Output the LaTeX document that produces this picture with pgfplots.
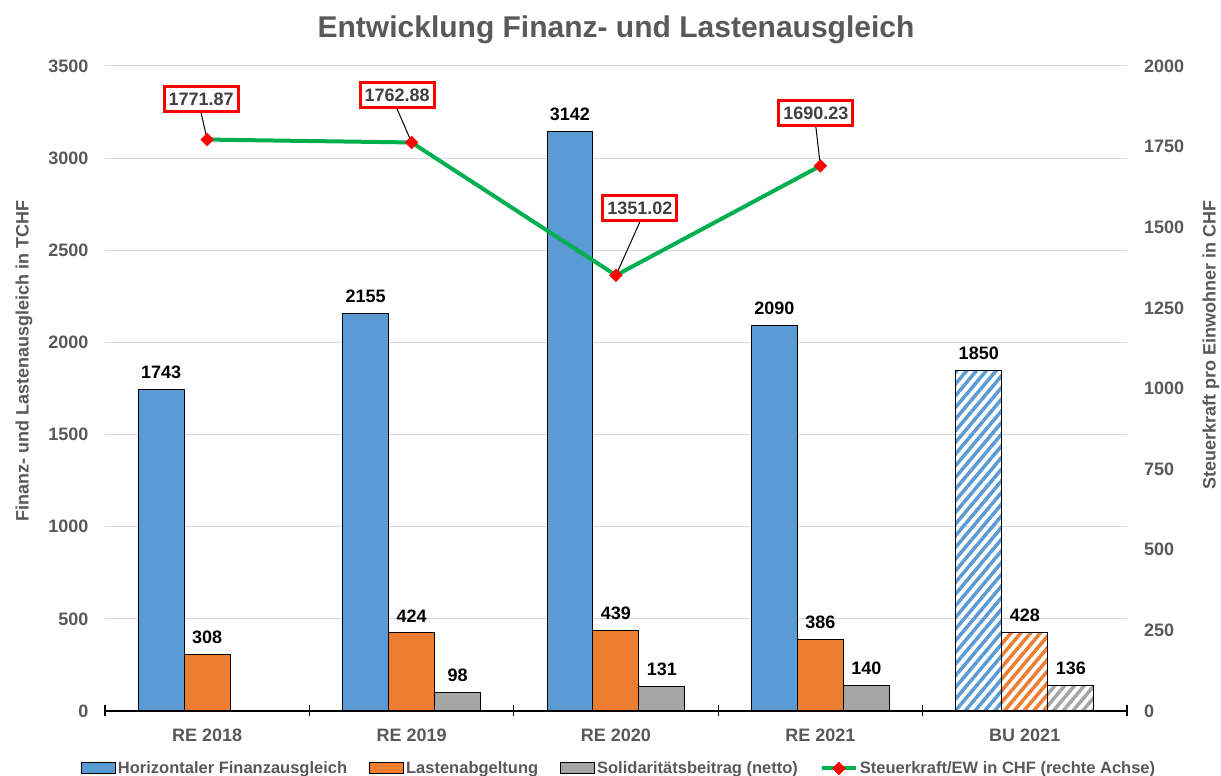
\documentclass[border=0pt]{standalone}
\usepackage{fontspec}
\setmainfont{Liberation Sans}
\usepackage{pgfplots}
\pgfplotsset{compat=1.18}
\usetikzlibrary{patterns.meta}

\definecolor{cblue}{HTML}{5B9BD5}
\definecolor{corange}{HTML}{ED7D31}
\definecolor{cgray}{HTML}{A5A5A5}
\definecolor{cgreen}{HTML}{00B050}
\definecolor{axgray}{HTML}{595959}
\definecolor{labgray}{HTML}{404040}
\definecolor{gridgray}{HTML}{D9D9D9}

\newcommand{\lblfont}{\fontsize{18}{20}\selectfont\bfseries}
\tikzset{lbox/.style={draw=red, line width=3pt, fill=white, text=labgray,
      font=\lblfont, inner xsep=4.5pt, inner ysep=6pt}}
\pgfplotsset{
  long line legend/.style={legend image code/.code={%
    \draw[mark repeat=2, mark phase=2, ##1] plot coordinates {(0pt,0pt) (17pt,0pt) (34pt,0pt)};}},
  box legend/.style={legend image code/.code={%
    \draw[fill=#1, draw=black, line width=1pt] (0pt,-5pt) rectangle (34pt,6pt);}},
  hatch/.style={pattern={Lines[angle=50,distance=7.5pt,line width=3.5pt]}, pattern color=#1},
  % bar offset 0.225 units = 46pt
  lab/.style={nodes near coords, every node near coord/.append style={xshift=#1, yshift=7pt}},
}

\begin{document}
\begin{tikzpicture}
% fixed page size: 1221 x 776, axis box at (0,0)-(1022,645)
\useasboundingbox (-105pt,-65pt) rectangle (1116pt,711pt);

\begin{axis}[
    scale only axis,
    width=1022pt, height=645pt,
    xmin=-0.5, xmax=4.5,
    ymin=0, ymax=3500,
    axis x line*=bottom,
    axis y line*=left,
    x axis line style={black, line width=1.2pt, -},
    y axis line style={draw=none},
    xtick={-0.5,0.5,1.5,2.5,3.5,4.5},
    x tick label as interval,
    xticklabels={RE 2018, RE 2019, RE 2020, RE 2021, BU 2021},
    x tick style={black, line width=1.2pt},
    major tick length=11pt,
    tick align=center,
    ytick={0,500,...,3500},
    y tick style={draw=none},
    ymajorgrids,
    grid style={gridgray, line width=1pt},
    tick label style={font=\lblfont, text=axgray},
    yticklabel style={inner sep=0pt, anchor=east, xshift=-11pt},
    xticklabel style={inner sep=0pt, anchor=north, yshift=-12pt},
    /pgf/number format/assume math mode=true,
    /pgf/number format/1000 sep={},
    scaled y ticks=false,
    every node near coord/.append style={font=\lblfont, text=black},
    every axis plot/.append style={ybar, bar width=0.225, draw=black, line width=1pt},
]

% Horizontaler Finanzausgleich
\addplot[bar shift=-0.225, fill=cblue, lab=-46pt]
  coordinates {(0,1743) (1,2155) (2,3142) (3,2090)};
\addplot[bar shift=-0.225, hatch=cblue, lab=-46pt]
  coordinates {(4,1850)};

% Lastenabgeltung
\addplot[bar shift=0, fill=corange, lab=0pt]
  coordinates {(0,308) (1,424) (2,439) (3,386)};
\addplot[bar shift=0, hatch=corange, lab=0pt]
  coordinates {(4,428)};

% Solidaritaetsbeitrag (netto)
\addplot[bar shift=0.225, fill=cgray, lab=46pt]
  coordinates {(1,98) (2,131) (3,140)};
\addplot[bar shift=0.225, hatch=cgray, lab=46pt]
  coordinates {(4,136)};
\end{axis}

\begin{axis}[
    scale only axis,
    width=1022pt, height=645pt,
    xmin=-0.5, xmax=4.5,
    ymin=0, ymax=2000,
    axis x line=none,
    axis y line*=right,
    y axis line style={draw=none},
    y tick style={draw=none},
    ytick={0,250,...,2000},
    tick label style={font=\lblfont, text=axgray},
    yticklabel style={inner sep=0pt, anchor=west, xshift=17pt},
    /pgf/number format/assume math mode=true,
    /pgf/number format/1000 sep={},
    scaled y ticks=false,
    clip=false,
    legend columns=4,
    legend style={at={(0.503,-0.089)}, anchor=center, draw=none,
      font=\fontsize{16.5}{18}\selectfont\bfseries, text=axgray,
      /tikz/every even column/.append style={column sep=20pt},
      nodes={inner xsep=2pt}},
]
\addlegendimage{box legend=cblue}
\addlegendentry{Horizontaler Finanzausgleich}
\addlegendimage{box legend=corange}
\addlegendentry{Lastenabgeltung}
\addlegendimage{box legend=cgray}
\addlegendentry{Solidaritätsbeitrag (netto)}

% Steuerkraft pro Einwohner (rechte Achse)
\addplot[cgreen, line width=4pt, mark=square*,
  mark options={red, draw=red, rotate=45, mark size=4.5pt, line width=0.5pt},
  long line legend]
  coordinates {(0,1771.87) (1,1762.88) (2,1351.02) (3,1690.23)};
\addlegendentry{Steuerkraft/EW in CHF (rechte Achse)}

% data callouts
\node[lbox] (a) at (axis cs:-0.03,1898) {1771.87};
\draw[black, line width=1pt] (a.south) -- (axis cs:0,1771.87);
\node[lbox] (b) at (axis cs:0.929,1910) {1762.88};
\draw[black, line width=1pt] (b.south) -- (axis cs:1,1762.88);
\node[lbox] (c) at (axis cs:2.117,1560) {1351.02};
\draw[black, line width=1pt] (c.south) -- (axis cs:2,1351.02);
\node[lbox] (d) at (axis cs:2.978,1854) {1690.23};
\draw[black, line width=1pt] (d.south) -- (axis cs:3,1690.23);
\end{axis}

% title and axis titles
\node[font=\fontsize{30}{34}\selectfont\bfseries, text=axgray] at (511pt,681pt)
  {Entwicklung Finanz- und Lastenausgleich};
\node[rotate=90, inner sep=0pt, font=\lblfont, text=axgray] at (-81pt,350pt)
  {Finanz- und Lastenausgleich in TCHF};
\node[rotate=90, inner sep=0pt, font=\lblfont, text=axgray] at (1106pt,366pt)
  {Steuerkraft pro Einwohner in CHF};
\end{tikzpicture}
\end{document}
